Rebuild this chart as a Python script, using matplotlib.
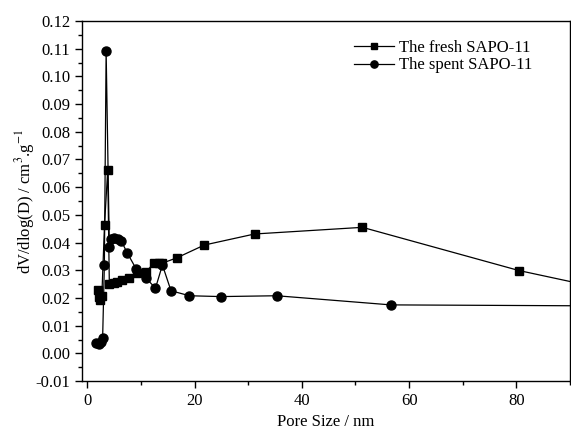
import matplotlib
matplotlib.use("Agg")
import matplotlib.pyplot as plt
from matplotlib.ticker import MultipleLocator, FormatStrFormatter

plt.rcParams['font.family'] = ['Liberation Serif', 'DejaVu Serif']
plt.rcParams['mathtext.fontset'] = 'stix'

# Pore size distribution of fresh SAPO-11
fresh_size = [1.9, 2.1, 2.4, 2.7, 3.2, 3.8, 4.1, 4.9, 5.6, 6.5, 7.7, 9.25, 11.0,
              12.35, 13.3, 13.9, 16.7, 21.8, 31.2, 51.3, 80.5, 100.0]
fresh_dv = [0.0230, 0.0205, 0.0193, 0.0207, 0.0464, 0.0662, 0.0250, 0.0253,
            0.0259, 0.0265, 0.0273, 0.0289, 0.0295, 0.0325, 0.0325, 0.0325,
            0.0345, 0.0391, 0.0431, 0.0455, 0.0299, 0.0218]

# Pore size distribution of spent SAPO-11
spent_size = [1.6, 2.1, 2.5, 2.85, 3.17, 3.5, 4.1, 4.4, 5.0, 5.65, 6.3, 7.4,
              9.1, 11.0, 12.7, 14.0, 15.6, 19.05, 24.9, 35.3, 56.6, 100.0]
spent_dv = [0.0038, 0.0034, 0.0040, 0.0056, 0.0319, 0.1093, 0.0385, 0.0413,
            0.0415, 0.0412, 0.0407, 0.0364, 0.0305, 0.0271, 0.0235, 0.0319,
            0.0226, 0.0208, 0.0205, 0.0208, 0.0175, 0.0171]

fig = plt.figure(figsize=(5.71, 4.37), dpi=100)
ax = fig.add_axes([0.1436, 0.128, 0.8545, 0.824])

ax.plot(fresh_size, fresh_dv, '-s', color='black', lw=0.9, ms=6,
        label='The fresh SAPO-11')
ax.plot(spent_size, spent_dv, '-o', color='black', lw=0.9, ms=6.5,
        label='The spent SAPO-11')

ax.set_xlim(-1, 90)
ax.set_ylim(-0.01, 0.12)
ax.xaxis.set_major_locator(MultipleLocator(20))
ax.xaxis.set_minor_locator(MultipleLocator(10))
ax.yaxis.set_major_locator(MultipleLocator(0.01))
ax.yaxis.set_minor_locator(MultipleLocator(0.005))
ax.yaxis.set_major_formatter(FormatStrFormatter('%.2f'))

ax.tick_params(which='major', direction='out', length=5, width=1,
               labelsize=12, top=False, right=False)
ax.tick_params(which='minor', direction='out', length=3, width=1,
               top=False, right=False)
for s in ax.spines.values():
    s.set_linewidth(1.0)

ax.set_xlabel('Pore Size / nm', fontsize=12, labelpad=4)
ax.set_ylabel(r'dV/dlog(D) / cm$^{3}$.g$^{-1}$', fontsize=12, labelpad=-1)

ax.legend(loc='upper left', bbox_to_anchor=(0.558, 0.948), frameon=False,
          fontsize=12, handlelength=2.4, handletextpad=0.3, labelspacing=0.1,
          borderpad=0, borderaxespad=0, markerscale=0.8)

fig.savefig('out.png', dpi=100)
